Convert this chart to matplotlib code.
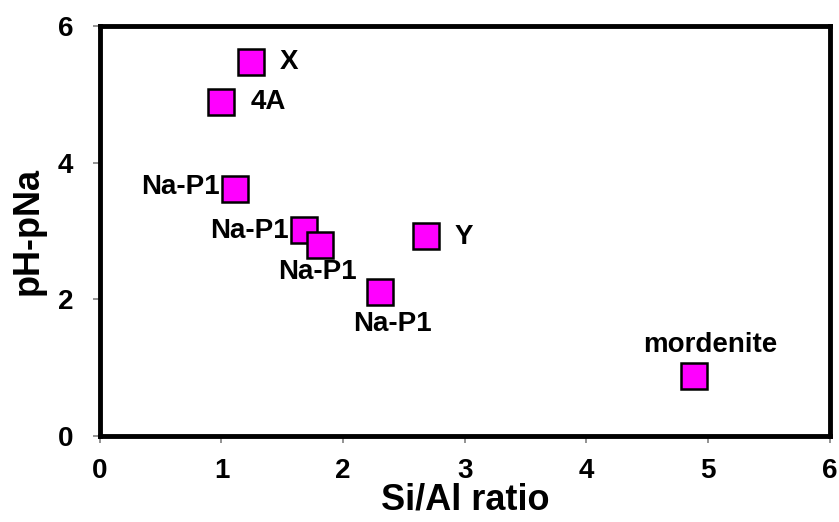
import matplotlib.pyplot as plt

plt.rcParams['font.family'] = ['Liberation Sans', 'DejaVu Sans']
plt.rcParams['font.weight'] = 'bold'

# data
si_al = [1.24, 1.00, 1.115, 1.68, 1.81, 2.30, 2.68, 4.88]
ph_pna = [5.48, 4.89, 3.62, 3.02, 2.80, 2.11, 2.93, 0.88]
names = ["X", "4A", "Na-P1", "Na-P1", "Na-P1", "Na-P1", "Y", "mordenite"]

# label placement (offset in points, alignment)
offsets = [(21, 0, 'left', 'center'),
           (21, 0, 'left', 'center'),
           (-11, 1, 'right', 'center'),
           (-11, -1, 'right', 'center'),
           (-2, -10, 'center', 'top'),
           (9, -14, 'center', 'top'),
           (21, -1, 'left', 'center'),
           (12, 13, 'center', 'bottom')]

fig = plt.figure(figsize=(8.39, 5.22), dpi=100)
ax = fig.add_axes([0.119, 0.165, 0.870, 0.785])

ax.plot(si_al, ph_pna, 's', color='#ff00ff', markeredgecolor='black',
        markersize=19, markeredgewidth=1.8, linestyle='none')

for x, y, n, (dx, dy, ha, va) in zip(si_al, ph_pna, names, offsets):
    ax.annotate(n, (x, y), xytext=(dx, dy), textcoords='offset points',
                ha=ha, va=va, fontsize=20, fontweight='bold')

ax.set_xlim(0, 6)
ax.set_ylim(0, 6)
ax.set_xticks(range(0, 7))
ax.set_yticks([0, 2, 4, 6])
ax.tick_params(direction='out', length=5, width=1.2, color='gray',
               labelsize=20)
ax.tick_params(axis='x', pad=11)
ax.tick_params(axis='y', pad=14)
for s in ax.spines.values():
    s.set_linewidth(3.5)
    s.set_color('black')

ax.set_xlabel("Si/Al ratio", fontsize=26, fontweight='bold', labelpad=-1)
ax.set_ylabel("pH-pNa", fontsize=26, fontweight='bold', labelpad=9)

fig.savefig("out.png", dpi=100)
